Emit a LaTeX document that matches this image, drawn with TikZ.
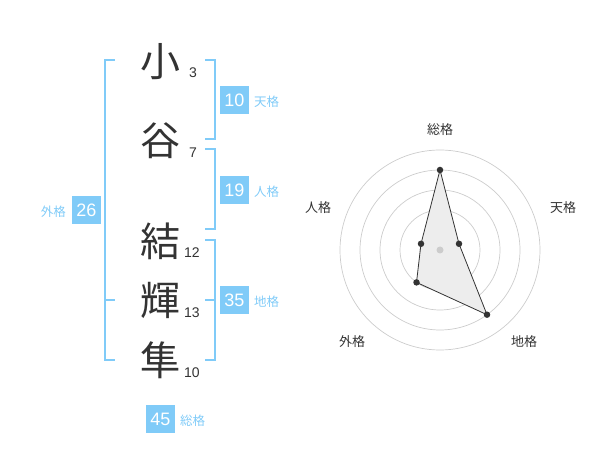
\documentclass[tikz,border=0pt]{standalone}
\usepackage{fontspec}
\setmainfont{Liberation Sans}
\newfontfamily\jp{Noto Sans CJK JP}
\definecolor{kblue}{HTML}{80CBF8}
\definecolor{ktext}{HTML}{333333}
\definecolor{kgrid}{HTML}{CCCCCC}
\begin{document}
\begin{tikzpicture}[x=1pt,y=-1pt,
  kanji/.style={inner sep=0pt,text=ktext,font=\jp\fontsize{40}{40}\selectfont},
  strokes/.style={inner sep=0pt,text=ktext,font=\fontsize{14}{14}\selectfont},
  badge/.style={fill=kblue,text=white,minimum width=29pt,minimum height=28pt,inner sep=0pt,font=\fontsize{18}{18}\selectfont},
  blabel/.style={inner sep=0pt,text=kblue,font=\jp\fontsize{12.5}{12.5}\selectfont},
  rlabel/.style={inner sep=0pt,text=ktext,font=\jp\fontsize{13}{13}\selectfont},
  brk/.style={draw=kblue,line width=2pt},
  grid/.style={draw=kgrid,line width=0.7pt},
  dot/.style={circle,fill=ktext,inner sep=0pt,minimum size=6.5pt}]
\path[use as bounding box] (0,0) rectangle (600,470);

% kanji
\node[kanji] (k1) at (160,62) {小};
\node[kanji] (k2) at (160,141) {谷};
\node[kanji] (k3) at (160,241) {結};
\node[kanji] (k4) at (160,300) {輝};
\node[kanji] (k5) at (160,360) {隼};
\node[strokes] (s1) at (193,73) {3};
\node[strokes] (s2) at (193,153) {7};
\node[strokes] (s3) at (192,253) {12};
\node[strokes] (s4) at (192,313) {13};
\node[strokes] (s5) at (192,373) {10};

% brackets
\draw[brk] (115,60) -- (105,60) -- (105,360) -- (115,360);
\draw[brk] (105,300) -- (115,300);
\draw[brk] (205,60) -- (215,60) -- (215,139) -- (205,139);
\draw[brk] (205,149) -- (215,149) -- (215,229) -- (205,229);
\draw[brk] (205,240) -- (215,240) -- (215,360) -- (205,360);
\draw[brk] (205,300) -- (215,300);

% badges
\node[badge] (ten) at (234.5,100) {10};
\node[blabel,anchor=west] (tenl) at (254,102) {天格};
\node[badge] (jin) at (234.5,190) {19};
\node[blabel,anchor=west] (jinl) at (254,192) {人格};
\node[badge] (chi) at (234.5,300) {35};
\node[blabel,anchor=west] (chil) at (254,302) {地格};
\node[badge] (gai) at (86.5,210) {26};
\node[blabel,anchor=east] (gail) at (66,212) {外格};
\node[badge] (sou) at (160.5,419) {45};
\node[blabel,anchor=west] (soul) at (180,421) {総格};

% radar
\coordinate (c) at (440,250);
\foreach \r in {20,40,60,80,100} \draw[grid] (c) circle[radius=\r];
\coordinate (p1) at (440,170);
\coordinate (p2) at (459.0,243.8);
\coordinate (p3) at (487.0,314.7);
\coordinate (p4) at (416.5,282.4);
\coordinate (p5) at (421.0,243.8);
\fill[black!7] (p1) -- (p2) -- (p3) -- (p4) -- (p5) -- cycle;
\draw[ktext,line width=0.8pt] (p1) -- (p2) -- (p3) -- (p4) -- (p5) -- cycle;
\node[circle,fill=kgrid,inner sep=0pt,minimum size=7pt] (cd) at (c) {};
\foreach \p in {p1,p2,p3,p4,p5} \node[dot] (d\p) at (\p) {};
\node[rlabel] (r1) at (440,130) {総格};
\node[rlabel] (r2) at (563,208) {天格};
\node[rlabel] (r3) at (524,342) {地格};
\node[rlabel] (r4) at (352,342) {外格};
\node[rlabel] (r5) at (318,208) {人格};
\end{tikzpicture}
\end{document}
